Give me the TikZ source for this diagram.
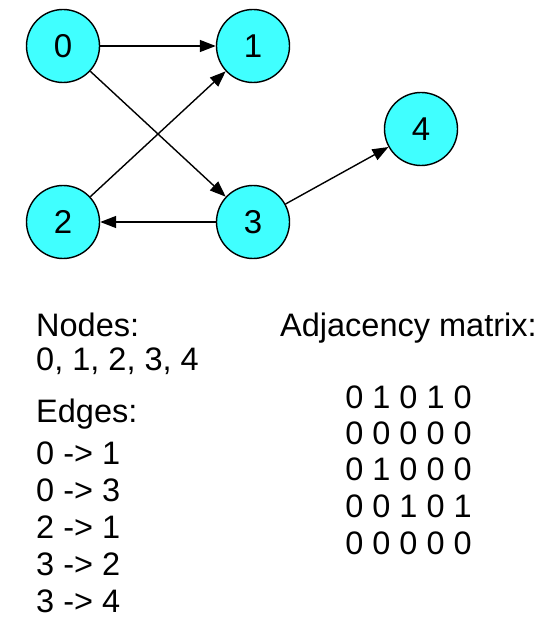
\documentclass[tikz,border=0pt]{standalone}
\usepackage{fontspec}
\setmainfont{Liberation Sans}
\usetikzlibrary{arrows.meta}
\definecolor{nodecyan}{RGB}{64,255,255}
\tikzset{
  vert/.style={circle, draw=black, line width=1.4pt, fill=nodecyan, minimum size=73pt, inner sep=0pt, font=\fontsize{33}{37}\selectfont},
  edge/.style={line width=1.4pt, -{Triangle[length=16pt,width=12pt]}, shorten >=0pt},
  txt/.style={inner sep=0pt, font=\fontsize{32.5}{37}\selectfont},
}
\begin{document}
\begin{tikzpicture}[x=1pt,y=-1pt]
\useasboundingbox (0,0) rectangle (544,628);
\node[vert] (n0) at (63,46) {0};
\node[vert] (n1) at (253,46) {1};
\node[vert] (n2) at (63,222) {2};
\node[vert] (n3) at (253,222) {3};
\node[vert] (n4) at (421,129) {4};
\draw[edge] (n0) -- (n1);
\draw[edge] (n0) -- (n3);
\draw[edge] (n2) -- (n1);
\draw[edge] (n3) -- (n2);
\draw[edge] (n3) -- (n4);
\node[txt, anchor=base west] (tnodes) at (36,336) {Nodes:};
\node[txt, anchor=base west] (tnodelist) at (36,370) {0, 1, 2, 3, 4};
\node[txt, anchor=base west] (tedges) at (36,422) {Edges:};
\node[txt, anchor=base west] (e1) at (36,464) {0 -> 1};
\node[txt, anchor=base west] (e2) at (36,501) {0 -> 3};
\node[txt, anchor=base west] (e3) at (36,538) {2 -> 1};
\node[txt, anchor=base west] (e4) at (36,575) {3 -> 2};
\node[txt, anchor=base west] (e5) at (36,612) {3 -> 4};
\node[txt, anchor=base west] (tadj) at (280,336) {Adjacency matrix:};
\node[txt, anchor=base] (r1) at (408.5,408) {0 1 0 1 0};
\node[txt, anchor=base] (r2) at (408.5,444) {0 0 0 0 0};
\node[txt, anchor=base] (r3) at (408.5,480) {0 1 0 0 0};
\node[txt, anchor=base] (r4) at (408.5,517) {0 0 1 0 1};
\node[txt, anchor=base] (r5) at (408.5,554) {0 0 0 0 0};
\end{tikzpicture}
\end{document}
